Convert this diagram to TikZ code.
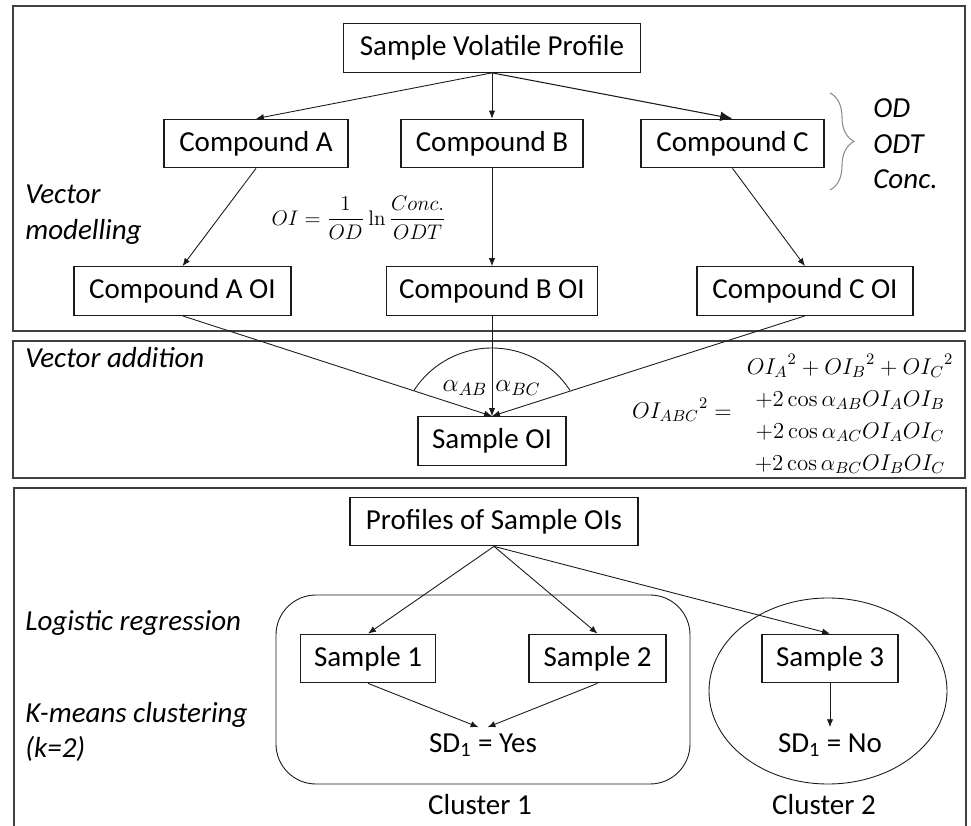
\RequirePackage{fix-cm}
\documentclass[tikz,border=0pt]{standalone}
\usepackage{amsmath}
\usepackage[no-math]{fontspec}
\setmainfont{Carlito}
\usepackage{tikz}
\usetikzlibrary{arrows.meta,positioning,decorations.pathreplacing}
\definecolor{ink}{HTML}{1A1A1A}
\definecolor{frame}{HTML}{404040}
\definecolor{bracegray}{HTML}{8C8C8C}
\tikzset{
  box/.style={draw=ink,line width=0.7pt,minimum height=0.97cm,inner sep=0pt,
              font=\fontsize{16.5}{19}\selectfont},
  panel/.style={draw=frame,line width=0.8pt},
  tag/.style={anchor=west,align=left,inner sep=0pt,
              font=\fontsize{16.5}{20.2}\selectfont\itshape},
  lbl/.style={font=\fontsize{16.5}{19}\selectfont},
  eqn/.style={align=center,font=\fontsize{13}{18.2}\selectfont},
  arr/.style={-{Latex[length=4.5pt,width=3.6pt]},line width=0.5pt,draw=ink},
  bigarr/.style={-{Latex[length=7pt,width=5.5pt]},line width=0.6pt,draw=ink},
  group/.style={draw=ink,line width=0.5pt},
  cbrace/.style={decorate,decoration={brace,amplitude=0.48cm},
                 line width=0.6pt,draw=bracegray}
}

\begin{document}
\begin{tikzpicture}[x=1cm,y=1cm]
    \path[use as bounding box,fill=white] (0,0) rectangle (19.42,-16.52);

    % three panels, the last one runs off the page
    \draw[panel] (0.26,-0.12) rectangle (19.30,-6.62);
    \draw[panel] (0.26,-6.82) rectangle (19.30,-9.56);
    \draw[panel] (0.28,-16.52) |- (19.32,-9.76) -- (19.32,-16.52);

    % vector modelling
    \node[box,minimum width=5.94cm] (svp) at (9.84,-0.96) {Sample Volatile Profile};
    \node[box,minimum width=3.68cm] (ca) at (5.12,-2.87) {Compound A};
    \node[box,minimum width=3.64cm] (cb) at (9.84,-2.87) {Compound B};
    \node[box,minimum width=3.66cm] (cc) at (14.65,-2.87) {Compound C};
    \node[box,minimum width=4.34cm] (caoi) at (3.65,-5.82) {Compound A OI};
    \node[box,minimum width=4.22cm] (cboi) at (9.84,-5.82) {Compound B OI};
    \node[box,minimum width=4.32cm] (ccoi) at (16.10,-5.82) {Compound C OI};

    \draw[arr] (svp.south) -- (ca.north);
    \draw[arr] (svp.south) -- (cb.north);
    \draw[bigarr] (svp.south) -- (cc.north);
    \draw[arr] (ca.south) -- (caoi.north);
    \draw[arr] (cb.south) -- (cboi.north);
    \draw[arr] (cc.south) -- (ccoi.north);

    \draw[cbrace] (16.60,-1.86) -- (16.60,-3.80);
    \node[tag] (props) at (17.46,-2.88) {OD\\ODT\\Conc.};
    \node[tag] (vmod) at (0.50,-4.29) {Vector\\modelling};
    \node[eqn,font=\fontsize{12}{14}\selectfont] (oieq) at (7.18,-4.36)
      {$\displaystyle OI=\frac{1}{OD}\ln\frac{Conc.}{ODT}$};

    % vector addition
    \node[tag] (vadd) at (0.50,-7.16) {Vector addition};
    \node[box,minimum width=2.96cm] (soi) at (9.84,-8.82) {Sample OI};
    \draw[arr] (caoi.south) -- (soi.north);
    \draw[arr] (cboi.south) -- (soi.north);
    \draw[arr] (ccoi.south) -- (soi.north);
    \draw[group] ([shift={(147:1.86)}]soi.center)
      arc[start angle=147,end angle=33,radius=1.86];
    \node[eqn,font=\fontsize{14.5}{17}\selectfont] (aab) at (9.30,-7.76) {$\alpha_{AB}$};
    \node[eqn,font=\fontsize{14.5}{17}\selectfont] (abc) at (10.36,-7.76) {$\alpha_{BC}$};

    \node[eqn] (sumlhs) at (13.64,-8.20) {${OI_{ABC}}^2 =$};
    \node[eqn] (sumrhs) at (17.00,-8.28)
      {${OI_A}^2+{OI_B}^2+{OI_C}^2$\\
       $+2\cos\alpha_{AB}OI_AOI_B$\\
       $+2\cos\alpha_{AC}OI_AOI_C$\\
       $+2\cos\alpha_{BC}OI_BOI_C$};

    % clustering
    \node[box,minimum width=5.76cm] (prof) at (9.88,-10.43) {Profiles of Sample OIs};
    \draw[group,rounded corners=0.8cm] (5.52,-11.90) rectangle (13.80,-15.68);
    \draw[group] (16.56,-13.82) ellipse[x radius=2.38,y radius=1.86];
    \node[box,minimum width=2.70cm] (s1) at (7.36,-13.17) {Sample 1};
    \node[box,minimum width=2.74cm] (s2) at (11.95,-13.17) {Sample 2};
    \node[box,minimum width=2.72cm] (s3) at (16.60,-13.17) {Sample 3};
    \node[lbl] (yes) at (9.66,-14.90) {SD\textsubscript{1} = Yes};
    \node[lbl] (no) at (16.60,-14.90) {SD\textsubscript{1} = No};
    \node[lbl] (cl1) at (9.60,-16.10) {Cluster 1};
    \node[lbl] (cl2) at (16.48,-16.10) {Cluster 2};

    \draw[arr] (prof.south) -- (s1.north);
    \draw[arr] (prof.south) -- (s2.north);
    \draw[arr] (prof.south) -- (s3.north);
    \draw[arr] (s1.south) -- ([xshift=-0.09cm]yes.north);
    \draw[arr] (s2.south) -- ([xshift=0.09cm]yes.north);
    \draw[arr] (s3.south) -- (no.north);

    \node[tag] (logreg) at (0.50,-12.46) {Logistic regression};
    \node[tag] (kmeans) at (0.50,-14.64) {K-means clustering\\(k=2)};
  \end{tikzpicture}
\end{document}
